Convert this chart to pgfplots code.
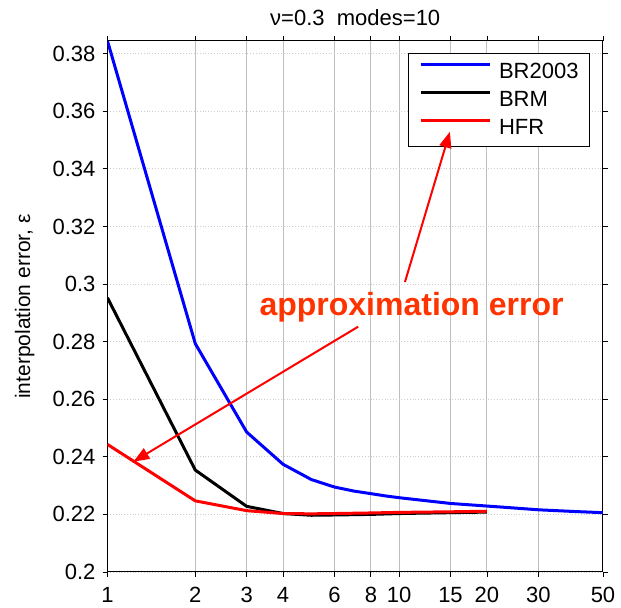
\documentclass[border=0pt]{standalone}
\usepackage{pgfplots}
\pgfplotsset{compat=1.18}
\usepackage{fontspec}
\setmainfont{Liberation Sans}
\usetikzlibrary{arrows.meta}
\definecolor{annot}{HTML}{FF3300}
\begin{document}
\begin{tikzpicture}
\begin{axis}[
  scale only axis,
  width=247.75pt, height=265.5pt,
  xmode=log,
  xmin=1, xmax=50, ymin=0.2, ymax=0.3844,
  xtick={1,2,3,4,6,8,10,15,20,30,50},
  xticklabels={1,2,3,4,6,8,10,15,20,30,50},
  minor xtick={},
  ytick={0.2,0.22,0.24,0.26,0.28,0.3,0.32,0.34,0.36,0.38},
  yticklabels={0.2,0.22,0.24,0.26,0.28,0.3,0.32,0.34,0.36,0.38},
  tick align=outside,
  major tick length=2.5pt,
  tick style={black, line width=0.4pt},
  axis line style={line width=0.5pt},
  xmajorgrids, ymajorgrids,
  x grid style={gray!50, line width=0.5pt},
  y grid style={densely dotted, gray!40, line width=0.4pt},
  tick label style={font=\fontsize{11}{13}\selectfont},
  xticklabel style={yshift=-1.5pt},
  /pgf/number format/assume math mode=true,
  title={ν=0.3\ \ modes=10},
  title style={at={(axis description cs:0.5,1)}, anchor=base, yshift=1.5pt, font=\fontsize{11}{13}\selectfont},
  ylabel={interpolation error, ε},
  ylabel style={at={(axis description cs:-0.1564,0.5)}, anchor=base, font=\fontsize{10.5}{12}\selectfont},
  legend style={at={(0.9738,0.9768)}, anchor=north east, draw=black, line width=0.5pt, fill=white,
    font=\fontsize{11}{13}\selectfont, inner xsep=5.5pt, inner ysep=4.25pt,
    row sep=4pt, column sep=4pt, nodes={inner sep=0pt, text height=8pt, text depth=2pt}},
  legend cell align=left,
  legend image code/.code={\draw[#1] (0pt,3.9pt) -- (34.5pt,3.9pt);},
]
\addplot[blue, line width=1.5pt] coordinates {
(1,0.3844) (2,0.2793) (3,0.2486) (4,0.2374) (5,0.2321) (6,0.2295) (7,0.2281) (8,0.2272)
(9,0.2264) (10,0.2258) (12,0.2249) (15,0.2238) (20,0.2229) (25,0.2222) (30,0.2216)
(40,0.2210) (50,0.2206)};
\addlegendentry{BR2003}
\addplot[black, line width=1.5pt] coordinates {
(1,0.2952) (2,0.2354) (3,0.2228) (4,0.2203) (5,0.2197) (6,0.2198) (8,0.2200)
(10,0.2203) (15,0.2206) (20,0.2208)};
\addlegendentry{BRM}
\addplot[red, line width=1.5pt] coordinates {
(1,0.2443) (2,0.2247) (3,0.2213) (4,0.2203) (5,0.2202) (6,0.2203) (8,0.2205)
(10,0.2207) (15,0.2209) (20,0.2211)};
\addlegendentry{HFR}
\node[font=\bfseries\fontsize{16}{19}\selectfont, text=annot] at (axis cs:11.03,0.2921) {approximation error};
\coordinate (a1s) at (axis cs:10.47,0.3007);
\coordinate (a1e) at (axis cs:14.93,0.3529);
\coordinate (a2s) at (axis cs:7.24,0.2852);
\coordinate (a2e) at (axis cs:1.226,0.2383);
\coordinate (bl) at (rel axis cs:0,0);
\coordinate (tr) at (rel axis cs:1,1);
\end{axis}
\draw[red, line width=1pt, -{Triangle[length=8pt,width=6pt]}] (a1s) -- (a1e);
\draw[red, line width=1pt, -{Triangle[length=8pt,width=6pt]}] (a2s) -- (a2e);
\pgfresetboundingbox
\path[use as bounding box] ([xshift=-53.75pt,yshift=-18pt]bl) rectangle ([xshift=9pt,yshift=20.5pt]tr);
\end{tikzpicture}
\end{document}
